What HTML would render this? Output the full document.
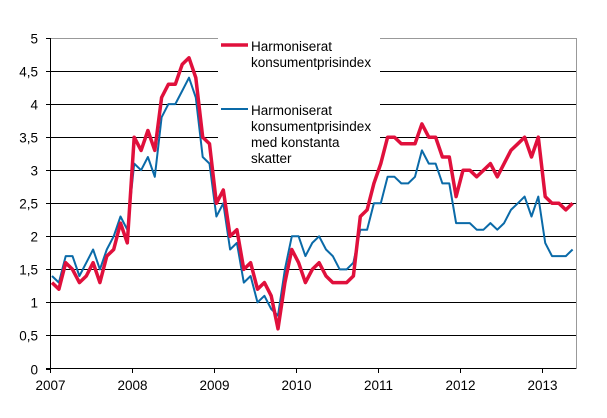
<!DOCTYPE html>
<html><head><meta charset="utf-8"><style>
html,body{margin:0;padding:0;background:#fff;}
svg{display:block;font-family:"Liberation Sans",Arial,sans-serif;}
</style></head><body>
<svg width="607" height="418" viewBox="0 0 607 418" xmlns="http://www.w3.org/2000/svg">
<g id="grid" stroke="#000" stroke-width="1"></g>
<line x1="576.5" y1="38" x2="576.5" y2="369" stroke="#999"/>
<g id="series"></g>
<rect x="218" y="36" width="162" height="120" fill="#fff"/>
<line x1="221" y1="45" x2="248" y2="45" stroke="#e0103c" stroke-width="3.5"/>
<text x="251" y="51" font-size="13.5">Harmoniserat</text>
<text x="251" y="67" font-size="13.5">konsumentprisindex</text>
<line x1="221" y1="109" x2="248" y2="109" stroke="#0a6aa8" stroke-width="2"/>
<text x="251" y="115" font-size="13.5">Harmoniserat</text>
<text x="251" y="131" font-size="13.5">konsumentprisindex</text>
<text x="251" y="147" font-size="13.5">med konstanta</text>
<text x="251" y="163" font-size="13.5">skatter</text>
<g id="axes"></g>
</svg>
<script>
var ns="http://www.w3.org/2000/svg";
function el(p,t,a,txt){var e=document.createElementNS(ns,t);for(var k in a)e.setAttribute(k,a[k]);if(txt!==undefined)e.textContent=txt;document.getElementById(p).appendChild(e);return e;}
var y0=368.5,ppu=66.1;
function Y(v){return y0-v*ppu;}
var labels=["0","0,5","1","1,5","2","2,5","3","3,5","4","4,5","5"];
for(var i=0;i<=10;i++){var y=Math.round(Y(i/2))+0.5;
 if(i>0)el("grid","line",{x1:50.5,x2:576,y1:y,y2:y,stroke:i==10?"#999":"#000"});
 el("axes","line",{x1:46,x2:51,y1:y,y2:y,stroke:"#000"});
 el("axes","text",{x:38,y:y+5,"font-size":"13.5","text-anchor":"end"},labels[i]);}
el("axes","line",{x1:50.5,x2:50.5,y1:38,y2:373,stroke:"#000"});
el("axes","line",{x1:46,x2:576,y1:368.5,y2:368.5,stroke:"#000"});
var yrs=[50.5,132.5,214.5,296.5,378.5,460.5,542.5];
for(var i=0;i<7;i++){el("axes","line",{x1:yrs[i],x2:yrs[i],y1:368,y2:373,stroke:"#000"});
 el("axes","text",{x:yrs[i],y:390,"font-size":"13.5","text-anchor":"middle"},String(2007+i));}
var red=[1.3,1.2,1.6,1.5,1.3,1.4,1.6,1.3,1.7,1.8,2.2,1.9,
3.5,3.3,3.6,3.3,4.1,4.3,4.3,4.6,4.7,4.4,3.5,3.4,
2.5,2.7,2.0,2.1,1.5,1.6,1.2,1.3,1.1,0.6,1.3,1.8,
1.6,1.3,1.5,1.6,1.4,1.3,1.3,1.3,1.4,2.3,2.4,2.8,
3.1,3.5,3.5,3.4,3.4,3.4,3.7,3.5,3.5,3.2,3.2,2.6,
3.0,3.0,2.9,3.0,3.1,2.9,3.1,3.3,3.4,3.5,3.2,3.5,
2.6,2.5,2.5,2.4,2.5];
var blue=[1.4,1.3,1.7,1.7,1.4,1.6,1.8,1.5,1.8,2.0,2.3,2.1,
3.1,3.0,3.2,2.9,3.8,4.0,4.0,4.2,4.4,4.1,3.2,3.1,
2.3,2.5,1.8,1.9,1.3,1.4,1.0,1.1,0.9,0.8,1.5,2.0,
2.0,1.7,1.9,2.0,1.8,1.7,1.5,1.5,1.6,2.1,2.1,2.5,
2.5,2.9,2.9,2.8,2.8,2.9,3.3,3.1,3.1,2.8,2.8,2.2,
2.2,2.2,2.1,2.1,2.2,2.1,2.2,2.4,2.5,2.6,2.3,2.6,
1.9,1.7,1.7,1.7,1.8];
function pts(d){return d.map(function(v,i){return (52+i*6.85).toFixed(1)+","+Y(v).toFixed(1);}).join(" ");}
el("series","polyline",{points:pts(blue),fill:"none",stroke:"#0a6aa8","stroke-width":2,"stroke-linejoin":"round"});
el("series","polyline",{points:pts(red),fill:"none",stroke:"#e0103c","stroke-width":3.5,"stroke-linejoin":"round"});
</script>
</body></html>
